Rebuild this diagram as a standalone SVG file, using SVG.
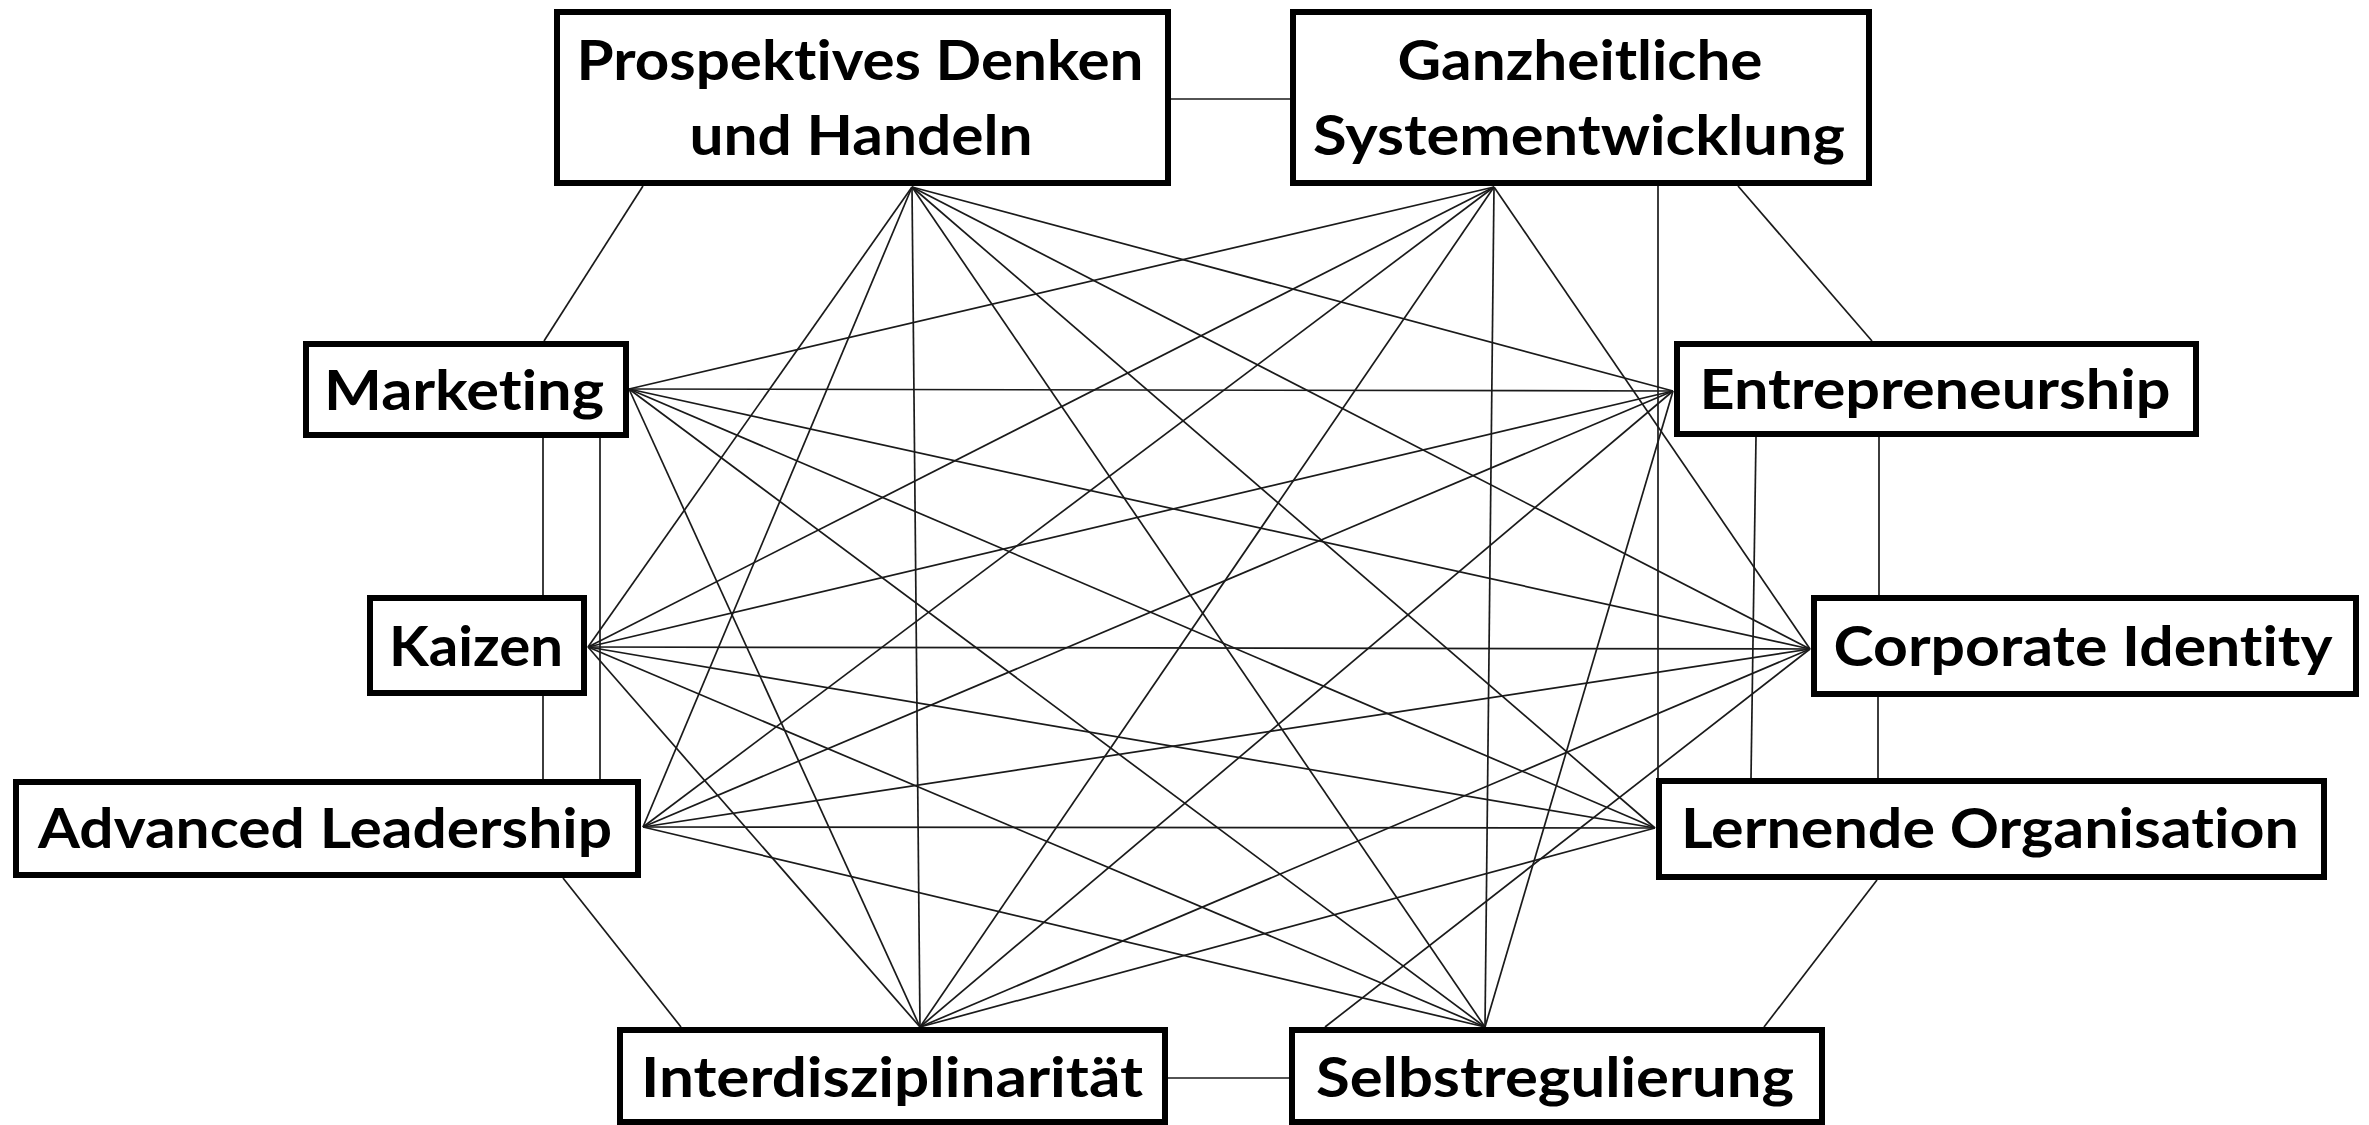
<svg xmlns="http://www.w3.org/2000/svg" width="2369" height="1125" viewBox="0 0 2369 1125">
<style>
.bg{fill:#ffffff}
.box{fill:#ffffff;stroke:#000000;stroke-width:6}
.lbl{font-family:"Lato","Liberation Sans",sans-serif;font-weight:700;font-size:56px;fill:#000000;text-anchor:middle;font-variant-ligatures:none;font-feature-settings:"liga" 0,"clig" 0,"dlig" 0}
#connectors line{stroke:#1a1a1a;stroke-width:1.7;fill:none}
</style>
<rect class="bg" x="0" y="0" width="2369" height="1125"/>
<g id="connectors">
<line x1="1168" y1="99" x2="1293" y2="99"/>
<line x1="643" y1="186" x2="544" y2="341"/>
<line x1="1738" y1="186" x2="1872" y2="341"/>
<line x1="1658" y1="186" x2="1658" y2="778"/>
<line x1="543" y1="438" x2="543" y2="595"/>
<line x1="543" y1="696" x2="543" y2="779"/>
<line x1="600" y1="438" x2="600" y2="779"/>
<line x1="1879" y1="437" x2="1879" y2="595"/>
<line x1="1878" y1="697" x2="1878" y2="778"/>
<line x1="1756" y1="437" x2="1751" y2="778"/>
<line x1="563" y1="878" x2="681" y2="1027"/>
<line x1="1168" y1="1078" x2="1289" y2="1078"/>
<line x1="1877" y1="880" x2="1764" y2="1027"/>
<line x1="912" y1="187" x2="1673" y2="391"/>
<line x1="912" y1="187" x2="588" y2="647"/>
<line x1="912" y1="187" x2="1810" y2="649"/>
<line x1="912" y1="187" x2="643" y2="827"/>
<line x1="912" y1="187" x2="1655" y2="828"/>
<line x1="912" y1="187" x2="920" y2="1027"/>
<line x1="912" y1="187" x2="1485" y2="1027"/>
<line x1="1494" y1="187" x2="629" y2="389"/>
<line x1="1494" y1="187" x2="588" y2="647"/>
<line x1="1494" y1="187" x2="643" y2="827"/>
<line x1="1494" y1="187" x2="920" y2="1027"/>
<line x1="1494" y1="187" x2="1485" y2="1027"/>
<line x1="1494" y1="187" x2="1810" y2="649"/>
<line x1="629" y1="389" x2="1673" y2="391"/>
<line x1="629" y1="389" x2="1810" y2="649"/>
<line x1="629" y1="389" x2="1655" y2="828"/>
<line x1="629" y1="389" x2="920" y2="1027"/>
<line x1="629" y1="389" x2="1485" y2="1027"/>
<line x1="1673" y1="391" x2="588" y2="647"/>
<line x1="1673" y1="391" x2="643" y2="827"/>
<line x1="1673" y1="391" x2="920" y2="1027"/>
<line x1="1673" y1="391" x2="1485" y2="1027"/>
<line x1="588" y1="647" x2="1810" y2="649"/>
<line x1="588" y1="647" x2="1655" y2="828"/>
<line x1="588" y1="647" x2="920" y2="1027"/>
<line x1="588" y1="647" x2="1485" y2="1027"/>
<line x1="1810" y1="649" x2="643" y2="827"/>
<line x1="1810" y1="649" x2="920" y2="1027"/>
<line x1="1810" y1="649" x2="1325" y2="1027"/>
<line x1="643" y1="827" x2="1655" y2="828"/>
<line x1="643" y1="827" x2="1485" y2="1027"/>
<line x1="1655" y1="828" x2="920" y2="1027"/>
</g>
<g id="node-prospektives">
<rect class="box" x="557" y="12" width="611" height="171"/>
<text class="lbl" x="860" y="80" textLength="567" lengthAdjust="spacingAndGlyphs">Prospektives Denken</text>
<text class="lbl" x="861" y="155" textLength="343" lengthAdjust="spacingAndGlyphs">und Handeln</text>
</g>
<g id="node-ganzheitliche">
<rect class="box" x="1293" y="12" width="576" height="171"/>
<text class="lbl" x="1580" y="80" textLength="365" lengthAdjust="spacingAndGlyphs">Ganzheitliche</text>
<text class="lbl" x="1579" y="155" textLength="532" lengthAdjust="spacingAndGlyphs">Systementwicklung</text>
</g>
<g id="node-marketing">
<rect class="box" x="306" y="344" width="320" height="91"/>
<text class="lbl" x="464" y="410" textLength="280" lengthAdjust="spacingAndGlyphs">Marketing</text>
</g>
<g id="node-kaizen">
<rect class="box" x="370" y="598" width="214" height="95"/>
<text class="lbl" x="476" y="666" textLength="174" lengthAdjust="spacingAndGlyphs">Kaizen</text>
</g>
<g id="node-advanced-leadership">
<rect class="box" x="16" y="782" width="622" height="93"/>
<text class="lbl" x="325" y="848" textLength="574" lengthAdjust="spacingAndGlyphs">Advanced Leadership</text>
</g>
<g id="node-entrepreneurship">
<rect class="box" x="1677" y="344" width="519" height="90"/>
<text class="lbl" x="1935" y="409" textLength="471" lengthAdjust="spacingAndGlyphs">Entrepreneurship</text>
</g>
<g id="node-corporate-identity">
<rect class="box" x="1814" y="598" width="542" height="96"/>
<text class="lbl" x="2083" y="666" textLength="499" lengthAdjust="spacingAndGlyphs">Corporate Identity</text>
</g>
<g id="node-lernende-organisation">
<rect class="box" x="1659" y="781" width="665" height="96"/>
<text class="lbl" x="1990" y="848" textLength="618" lengthAdjust="spacingAndGlyphs">Lernende Organisation</text>
</g>
<g id="node-interdisziplinaritaet">
<rect class="box" x="620" y="1030" width="545" height="92"/>
<text class="lbl" x="892" y="1097" textLength="502" lengthAdjust="spacingAndGlyphs">Interdisziplinarität</text>
</g>
<g id="node-selbstregulierung">
<rect class="box" x="1292" y="1030" width="530" height="92"/>
<text class="lbl" x="1555" y="1097" textLength="478" lengthAdjust="spacingAndGlyphs">Selbstregulierung</text>
</g>
</svg>
